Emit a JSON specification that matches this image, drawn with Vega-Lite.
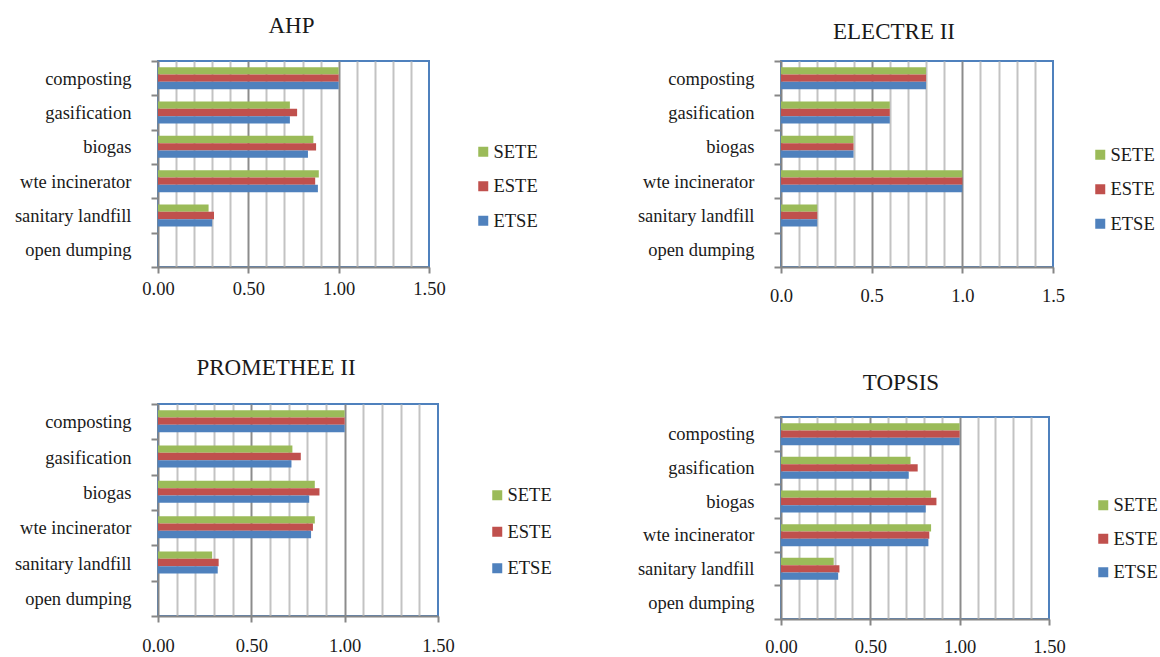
{
  "$schema": "https://vega.github.io/schema/vega-lite/v6.json",
  "padding": {"left": 13, "top": 14, "right": 0, "bottom": 0},
  "bounds": "flush",
  "spacing": 623,
  "data": {"values": [
    {"method":"AHP","alt":"composting","series":"SETE","value":1.0},
    {"method":"AHP","alt":"composting","series":"ESTE","value":1.0},
    {"method":"AHP","alt":"composting","series":"ETSE","value":1.0},
    {"method":"AHP","alt":"gasification","series":"SETE","value":0.73},
    {"method":"AHP","alt":"gasification","series":"ESTE","value":0.77},
    {"method":"AHP","alt":"gasification","series":"ETSE","value":0.73},
    {"method":"AHP","alt":"biogas","series":"SETE","value":0.86},
    {"method":"AHP","alt":"biogas","series":"ESTE","value":0.875},
    {"method":"AHP","alt":"biogas","series":"ETSE","value":0.83},
    {"method":"AHP","alt":"wte incinerator","series":"SETE","value":0.89},
    {"method":"AHP","alt":"wte incinerator","series":"ESTE","value":0.87},
    {"method":"AHP","alt":"wte incinerator","series":"ETSE","value":0.885},
    {"method":"AHP","alt":"sanitary landfill","series":"SETE","value":0.28},
    {"method":"AHP","alt":"sanitary landfill","series":"ESTE","value":0.31},
    {"method":"AHP","alt":"sanitary landfill","series":"ETSE","value":0.30},
    {"method":"AHP","alt":"open dumping","series":"SETE","value":0},
    {"method":"AHP","alt":"open dumping","series":"ESTE","value":0},
    {"method":"AHP","alt":"open dumping","series":"ETSE","value":0},
    {"method":"ELECTRE II","alt":"composting","series":"SETE","value":0.8},
    {"method":"ELECTRE II","alt":"composting","series":"ESTE","value":0.8},
    {"method":"ELECTRE II","alt":"composting","series":"ETSE","value":0.8},
    {"method":"ELECTRE II","alt":"gasification","series":"SETE","value":0.6},
    {"method":"ELECTRE II","alt":"gasification","series":"ESTE","value":0.6},
    {"method":"ELECTRE II","alt":"gasification","series":"ETSE","value":0.6},
    {"method":"ELECTRE II","alt":"biogas","series":"SETE","value":0.4},
    {"method":"ELECTRE II","alt":"biogas","series":"ESTE","value":0.4},
    {"method":"ELECTRE II","alt":"biogas","series":"ETSE","value":0.4},
    {"method":"ELECTRE II","alt":"wte incinerator","series":"SETE","value":1.0},
    {"method":"ELECTRE II","alt":"wte incinerator","series":"ESTE","value":1.0},
    {"method":"ELECTRE II","alt":"wte incinerator","series":"ETSE","value":1.0},
    {"method":"ELECTRE II","alt":"sanitary landfill","series":"SETE","value":0.2},
    {"method":"ELECTRE II","alt":"sanitary landfill","series":"ESTE","value":0.2},
    {"method":"ELECTRE II","alt":"sanitary landfill","series":"ETSE","value":0.2},
    {"method":"ELECTRE II","alt":"open dumping","series":"SETE","value":0},
    {"method":"ELECTRE II","alt":"open dumping","series":"ESTE","value":0},
    {"method":"ELECTRE II","alt":"open dumping","series":"ETSE","value":0},
    {"method":"PROMETHEE II","alt":"composting","series":"SETE","value":1.0},
    {"method":"PROMETHEE II","alt":"composting","series":"ESTE","value":1.0},
    {"method":"PROMETHEE II","alt":"composting","series":"ETSE","value":1.0},
    {"method":"PROMETHEE II","alt":"gasification","series":"SETE","value":0.72},
    {"method":"PROMETHEE II","alt":"gasification","series":"ESTE","value":0.765},
    {"method":"PROMETHEE II","alt":"gasification","series":"ETSE","value":0.715},
    {"method":"PROMETHEE II","alt":"biogas","series":"SETE","value":0.84},
    {"method":"PROMETHEE II","alt":"biogas","series":"ESTE","value":0.865},
    {"method":"PROMETHEE II","alt":"biogas","series":"ETSE","value":0.81},
    {"method":"PROMETHEE II","alt":"wte incinerator","series":"SETE","value":0.84},
    {"method":"PROMETHEE II","alt":"wte incinerator","series":"ESTE","value":0.83},
    {"method":"PROMETHEE II","alt":"wte incinerator","series":"ETSE","value":0.82},
    {"method":"PROMETHEE II","alt":"sanitary landfill","series":"SETE","value":0.29},
    {"method":"PROMETHEE II","alt":"sanitary landfill","series":"ESTE","value":0.325},
    {"method":"PROMETHEE II","alt":"sanitary landfill","series":"ETSE","value":0.32},
    {"method":"PROMETHEE II","alt":"open dumping","series":"SETE","value":0},
    {"method":"PROMETHEE II","alt":"open dumping","series":"ESTE","value":0},
    {"method":"PROMETHEE II","alt":"open dumping","series":"ETSE","value":0},
    {"method":"TOPSIS","alt":"composting","series":"SETE","value":1.0},
    {"method":"TOPSIS","alt":"composting","series":"ESTE","value":1.0},
    {"method":"TOPSIS","alt":"composting","series":"ETSE","value":1.0},
    {"method":"TOPSIS","alt":"gasification","series":"SETE","value":0.725},
    {"method":"TOPSIS","alt":"gasification","series":"ESTE","value":0.765},
    {"method":"TOPSIS","alt":"gasification","series":"ETSE","value":0.715},
    {"method":"TOPSIS","alt":"biogas","series":"SETE","value":0.84},
    {"method":"TOPSIS","alt":"biogas","series":"ESTE","value":0.87},
    {"method":"TOPSIS","alt":"biogas","series":"ETSE","value":0.81},
    {"method":"TOPSIS","alt":"wte incinerator","series":"SETE","value":0.84},
    {"method":"TOPSIS","alt":"wte incinerator","series":"ESTE","value":0.83},
    {"method":"TOPSIS","alt":"wte incinerator","series":"ETSE","value":0.825},
    {"method":"TOPSIS","alt":"sanitary landfill","series":"SETE","value":0.295},
    {"method":"TOPSIS","alt":"sanitary landfill","series":"ESTE","value":0.327},
    {"method":"TOPSIS","alt":"sanitary landfill","series":"ETSE","value":0.32},
    {"method":"TOPSIS","alt":"open dumping","series":"SETE","value":0},
    {"method":"TOPSIS","alt":"open dumping","series":"ESTE","value":0},
    {"method":"TOPSIS","alt":"open dumping","series":"ETSE","value":0}
  ]},
  "resolve": {"scale": {"color": "independent"}, "legend": {"color": "independent"}},
  "hconcat": [
    {
      "vconcat": [
        {
          "title": {"text": "AHP", "dx": -2, "offset": 14},
          "width": 271, "height": 206,
          "transform": [{"filter": "datum.method == 'AHP'"}],
          "mark": "bar",
          "encoding": {
            "y": {"field": "alt", "type": "nominal", "title": null, "sort": ["composting","gasification","biogas","wte incinerator","sanitary landfill","open dumping"], "scale": {"paddingInner": 0, "paddingOuter": 0}},
            "yOffset": {"field": "series", "type": "nominal", "sort": ["SETE","ESTE","ETSE"], "scale": {"paddingInner": 0, "paddingOuter": 0.84}},
            "x": {"field": "value", "type": "quantitative", "title": null, "scale": {"domain": [0, 1.5], "nice": false},
              "axis": {"values": [0,0.1,0.2,0.3,0.4,0.5,0.6,0.7,0.8,0.9,1,1.1,1.2,1.3,1.4,1.5], "labelPadding": 6,
                "labelExpr": "(datum.value == 0 || datum.value == 0.5 || datum.value == 1 || datum.value == 1.5) ? format(datum.value, '.2f') : ''",
                "gridColor": {"condition": {"test": "datum.value == 0.5 || datum.value == 1", "value": "#8C8C8C"}, "value": "#C3C3C3"},
                "gridOpacity": {"condition": {"test": "datum.value > 1.45 || datum.value < 0.05", "value": 0}, "value": 1},
                "tickOpacity": {"condition": {"test": "datum.value == 0 || datum.value == 0.5 || datum.value == 1 || datum.value == 1.5", "value": 1}, "value": 0}}},
            "color": {"field": "series", "type": "nominal", "sort": ["SETE","ESTE","ETSE"], "scale": {"domain": ["SETE","ESTE","ETSE"], "range": ["#9BBB59","#C0504D","#4F81BD"]},
              "legend": {"title": null, "orient": "none", "legendX": 316, "legendY": 81.5}}
          }
        },
        {
          "title": {"text": "PROMETHEE II", "dx": -22, "offset": 15},
          "width": 280, "height": 212,
          "transform": [{"filter": "datum.method == 'PROMETHEE II'"}],
          "mark": "bar",
          "encoding": {
            "y": {"field": "alt", "type": "nominal", "title": null, "sort": ["composting","gasification","biogas","wte incinerator","sanitary landfill","open dumping"], "scale": {"paddingInner": 0, "paddingOuter": 0}},
            "yOffset": {"field": "series", "type": "nominal", "sort": ["SETE","ESTE","ETSE"], "scale": {"paddingInner": 0, "paddingOuter": 0.84}},
            "x": {"field": "value", "type": "quantitative", "title": null, "scale": {"domain": [0, 1.5], "nice": false},
              "axis": {"values": [0,0.1,0.2,0.3,0.4,0.5,0.6,0.7,0.8,0.9,1,1.1,1.2,1.3,1.4,1.5], "labelPadding": 14,
                "labelExpr": "(datum.value == 0 || datum.value == 0.5 || datum.value == 1 || datum.value == 1.5) ? format(datum.value, '.2f') : ''",
                "gridColor": {"condition": {"test": "datum.value == 0.5 || datum.value == 1", "value": "#8C8C8C"}, "value": "#C3C3C3"},
                "gridOpacity": {"condition": {"test": "datum.value > 1.45 || datum.value < 0.05", "value": 0}, "value": 1},
                "tickOpacity": {"condition": {"test": "datum.value == 0 || datum.value == 0.5 || datum.value == 1 || datum.value == 1.5", "value": 1}, "value": 0}}},
            "color": {"field": "series", "type": "nominal", "sort": ["SETE","ESTE","ETSE"], "scale": {"domain": ["SETE","ESTE","ETSE"], "range": ["#9BBB59","#C0504D","#4F81BD"]},
              "legend": {"title": null, "orient": "none", "legendX": 330, "legendY": 82, "rowPadding": 17.5}}
          }
        }
      ],
      "spacing": 137,
      "bounds": "flush",
      "resolve": {"scale": {"color": "independent"}, "legend": {"color": "independent"}}
    },
    {
      "vconcat": [
        {
          "title": {"text": "ELECTRE II", "dx": -23, "offset": 8},
          "width": 272, "height": 206,
          "transform": [{"filter": "datum.method == 'ELECTRE II'"}],
          "mark": "bar",
          "encoding": {
            "y": {"field": "alt", "type": "nominal", "title": null, "sort": ["composting","gasification","biogas","wte incinerator","sanitary landfill","open dumping"], "scale": {"paddingInner": 0, "paddingOuter": 0}},
            "yOffset": {"field": "series", "type": "nominal", "sort": ["SETE","ESTE","ETSE"], "scale": {"paddingInner": 0, "paddingOuter": 0.84}},
            "x": {"field": "value", "type": "quantitative", "title": null, "scale": {"domain": [0, 1.5], "nice": false},
              "axis": {"values": [0,0.1,0.2,0.3,0.4,0.5,0.6,0.7,0.8,0.9,1,1.1,1.2,1.3,1.4,1.5], "labelPadding": 13,
                "labelExpr": "(datum.value == 0 || datum.value == 0.5 || datum.value == 1 || datum.value == 1.5) ? format(datum.value, '.1f') : ''",
                "gridColor": {"condition": {"test": "datum.value == 0.5 || datum.value == 1", "value": "#8C8C8C"}, "value": "#C3C3C3"},
                "gridOpacity": {"condition": {"test": "datum.value > 1.45 || datum.value < 0.05", "value": 0}, "value": 1},
                "tickOpacity": {"condition": {"test": "datum.value == 0 || datum.value == 0.5 || datum.value == 1 || datum.value == 1.5", "value": 1}, "value": 0}}},
            "color": {"field": "series", "type": "nominal", "sort": ["SETE","ESTE","ETSE"], "scale": {"domain": ["SETE","ESTE","ETSE"], "range": ["#9BBB59","#C0504D","#4F81BD"]},
              "legend": {"title": null, "orient": "none", "legendX": 310, "legendY": 84.5}}
          }
        },
        {
          "title": {"text": "TOPSIS", "dx": -14, "offset": 13},
          "width": 268, "height": 202,
          "transform": [{"filter": "datum.method == 'TOPSIS'"}],
          "mark": "bar",
          "encoding": {
            "y": {"field": "alt", "type": "nominal", "title": null, "sort": ["composting","gasification","biogas","wte incinerator","sanitary landfill","open dumping"], "scale": {"paddingInner": 0, "paddingOuter": 0}},
            "yOffset": {"field": "series", "type": "nominal", "sort": ["SETE","ESTE","ETSE"], "scale": {"paddingInner": 0, "paddingOuter": 0.84}},
            "x": {"field": "value", "type": "quantitative", "title": null, "scale": {"domain": [0, 1.5], "nice": false},
              "axis": {"values": [0,0.1,0.2,0.3,0.4,0.5,0.6,0.7,0.8,0.9,1,1.1,1.2,1.3,1.4,1.5], "labelPadding": 12,
                "labelExpr": "(datum.value == 0 || datum.value == 0.5 || datum.value == 1 || datum.value == 1.5) ? format(datum.value, '.2f') : ''",
                "gridColor": {"condition": {"test": "datum.value == 0.5 || datum.value == 1", "value": "#8C8C8C"}, "value": "#C3C3C3"},
                "gridOpacity": {"condition": {"test": "datum.value > 1.45 || datum.value < 0.05", "value": 0}, "value": 1},
                "tickOpacity": {"condition": {"test": "datum.value == 0 || datum.value == 0.5 || datum.value == 1 || datum.value == 1.5", "value": 1}, "value": 0}}},
            "color": {"field": "series", "type": "nominal", "sort": ["SETE","ESTE","ETSE"], "scale": {"domain": ["SETE","ESTE","ETSE"], "range": ["#9BBB59","#C0504D","#4F81BD"]},
              "legend": {"title": null, "orient": "none", "legendX": 313, "legendY": 79, "rowPadding": 14.5}}
          }
        }
      ],
      "spacing": 150,
      "bounds": "flush",
      "resolve": {"scale": {"color": "independent"}, "legend": {"color": "independent"}}
    }
  ],
  "config": {
    "font": "Liberation Serif",
    "background": "#ffffff",
    "view": {"stroke": "#4F81BD", "strokeWidth": 2},
    "axis": {"domainColor": "#868686", "domainWidth": 2, "tickColor": "#868686", "tickWidth": 2, "labelFont": "Liberation Serif", "labelFontSize": 18.5, "labelColor": "#1a1a1a", "gridWidth": 2},
    "axisX": {"tickSize": 6, "labelOverlap": false, "labelFlush": false, "grid": true},
    "axisY": {"tickSize": 7, "labelPadding": 20, "grid": false, "tickBand": "extent"},
    "title": {"font": "Liberation Serif", "fontSize": 23, "fontWeight": "normal", "color": "#1a1a1a"},
    "legend": {"labelFont": "Liberation Serif", "labelFontSize": 18.5, "labelColor": "#1a1a1a", "symbolType": "square", "symbolSize": 100, "symbolStrokeWidth": 0, "symbolOpacity": 1, "rowPadding": 15.5, "labelOffset": 1}
  }
}
